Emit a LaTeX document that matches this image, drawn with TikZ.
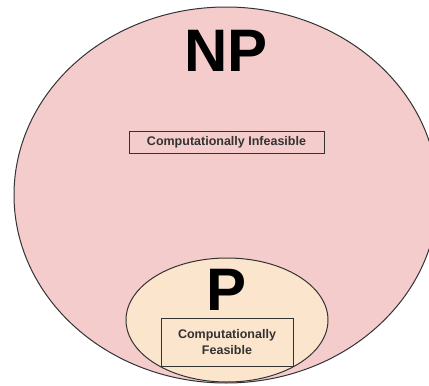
\documentclass[tikz,border=0pt]{standalone}
\usepackage{fontspec}
\setmainfont{Liberation Sans}
\usetikzlibrary{shapes.geometric}
\definecolor{nppink}{HTML}{F4CCCC}
\definecolor{ppeach}{HTML}{FCE5CD}
\definecolor{edge}{HTML}{333333}
\begin{document}
\begin{tikzpicture}[x=1pt,y=-1pt,
  setshape/.style={ellipse,draw=edge,line width=1pt,inner sep=0pt},
  bigtitle/.style={font=\fontsize{60}{60}\selectfont\bfseries,text=black,inner sep=0pt},
  labelbox/.style={draw=edge,line width=0.9pt,font=\fontsize{12.5}{15.5}\selectfont\bfseries,text=edge,align=center,inner sep=0pt}]
\useasboundingbox (0,0) rectangle (429,386);
\clip (0,0) rectangle (429,386);
\node[setshape,fill=nppink,minimum width=424pt,minimum height=376pt] (np) at (226,195) {};
\node[bigtitle] (nplabel) at (226,51) {NP};
\node[labelbox,fill=nppink,minimum width=195pt,minimum height=22pt] (infeasible) at (226.5,142) {Computationally Infeasible};
\node[setshape,fill=ppeach,minimum width=202pt,minimum height=124pt] (p) at (227,320) {};
\node[bigtitle] (plabel) at (227,290) {P};
\node[labelbox,fill=ppeach,minimum width=132pt,minimum height=48pt] (feasible) at (227,342) {Computationally\\Feasible};
\end{tikzpicture}
\end{document}
